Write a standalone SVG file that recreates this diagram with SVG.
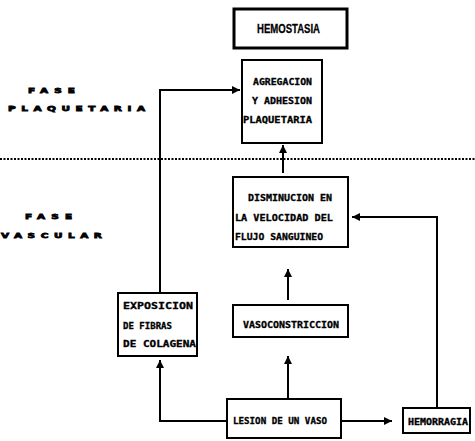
<svg xmlns="http://www.w3.org/2000/svg" width="475" height="441" viewBox="0 0 475 441">
<style>
.box{fill:#fff;stroke:#000;stroke-width:2}
.thick{stroke-width:3}
.t{font-family:"DejaVu Sans Mono","Liberation Mono",monospace;font-weight:bold;font-size:9px;fill:#000;stroke:#000;stroke-width:0.3}
.lab{font-family:"DejaVu Sans","Liberation Sans",sans-serif;font-weight:bold;font-size:7.5px;fill:#000;stroke:#000;stroke-width:0.8}
.h{font-family:"Liberation Sans","DejaVu Sans",sans-serif;font-weight:bold;font-size:13px;fill:#000;stroke:#000;stroke-width:0.3}
.c{fill:none;stroke:#000;stroke-width:2}
.dot{fill:none;stroke:#000;stroke-width:2;stroke-dasharray:2 1.5}
</style>
<defs>
<marker id="ah" viewBox="0 0 8 8" refX="8" refY="4" markerWidth="8" markerHeight="8" markerUnits="userSpaceOnUse" orient="auto">
<path d="M0,0 L8,4 L0,8 Z" fill="#000"/>
</marker>
</defs>

<g id="labels" transform="scale(1.4,1)">
<text class="lab" x="20" y="93" textLength="33.6" lengthAdjust="spacing">FASE</text>
<text class="lab" x="5.7" y="111" textLength="97.9" lengthAdjust="spacing">PLAQUETARIA</text>
<text class="lab" x="17.9" y="219" textLength="33.6" lengthAdjust="spacing">FASE</text>
<text class="lab" x="0.7" y="238" textLength="72.1" lengthAdjust="spacing">VASCULAR</text>
</g>

<g id="divider">
<line class="dot" x1="0" y1="159" x2="475" y2="159"/>
</g>

<g id="connectors">
<line class="c" x1="288" y1="398" x2="288" y2="356" marker-end="url(#ah)"/>
<line class="c" x1="288" y1="300" x2="288" y2="269" marker-end="url(#ah)"/>
<line class="c" x1="283" y1="173" x2="283" y2="145" marker-end="url(#ah)"/>
<polyline class="c" points="227,421 160,421 160,360" marker-end="url(#ah)"/>
<polyline class="c" points="160,293 160,90 240,90" marker-end="url(#ah)"/>
<line class="c" x1="341" y1="421" x2="392" y2="421" marker-end="url(#ah)"/>
<polyline class="c" points="437,408 437,217 352,217" marker-end="url(#ah)"/>
</g>

<g id="hemostasia">
<rect class="box thick" x="234" y="9" width="113" height="39"/>
<text class="h" x="257" y="33" textLength="63" lengthAdjust="spacingAndGlyphs">HEMOSTASIA</text>
</g>

<g id="agregacion">
<rect class="box" x="242" y="60" width="80" height="83"/>
<text class="t" x="253" y="84.5" textLength="59" lengthAdjust="spacingAndGlyphs">AGREGACION</text>
<text class="t" x="252" y="103.5" textLength="60" lengthAdjust="spacingAndGlyphs">Y ADHESION</text>
<text class="t" x="243" y="122.5" textLength="69" lengthAdjust="spacingAndGlyphs">PLAQUETARIA</text>
</g>

<g id="disminucion">
<rect class="box" x="233" y="177" width="115" height="70"/>
<text class="t" x="248" y="200.5" textLength="84" lengthAdjust="spacingAndGlyphs">DISMINUCION EN</text>
<text class="t" x="235" y="220.5" textLength="98" lengthAdjust="spacingAndGlyphs">LA VELOCIDAD DEL</text>
<text class="t" x="235" y="239.5" textLength="88" lengthAdjust="spacingAndGlyphs">FLUJO SANGUINEO</text>
</g>

<g id="vasoconstriccion">
<rect class="box" x="233" y="305" width="115" height="32"/>
<text class="t" x="243" y="327.5" textLength="96" lengthAdjust="spacingAndGlyphs">VASOCONSTRICCION</text>
</g>

<g id="exposicion">
<rect class="box" x="118" y="293" width="79" height="63"/>
<text class="t" x="123" y="308.5" textLength="70" lengthAdjust="spacingAndGlyphs">EXPOSICION</text>
<text class="t" x="123" y="328.5" textLength="49" lengthAdjust="spacingAndGlyphs">DE FIBRAS</text>
<text class="t" x="123" y="346.5" textLength="73" lengthAdjust="spacingAndGlyphs">DE COLAGENA</text>
</g>

<g id="lesion">
<rect class="box" x="227" y="399" width="114" height="39"/>
<text class="t" x="233" y="423.5" textLength="94" lengthAdjust="spacingAndGlyphs">LESION DE UN VASO</text>
</g>

<g id="hemorragia">
<rect class="box" x="403" y="408" width="67" height="25"/>
<text class="t" x="408" y="425" textLength="60" lengthAdjust="spacingAndGlyphs" style="font-size:8px">HEMORRAGIA</text>
</g>
</svg>
